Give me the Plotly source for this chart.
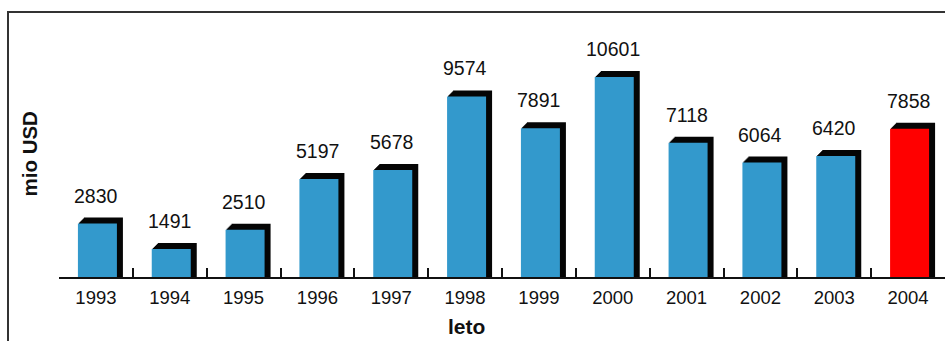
import plotly.graph_objects as go

# Annual values (mio USD)
years = ["1993", "1994", "1995", "1996", "1997", "1998",
         "1999", "2000", "2001", "2002", "2003", "2004"]
values = [2830, 1491, 2510, 5197, 5678, 9574, 7891, 10601, 7118, 6064, 6420, 7858]
bar_colors = ["#3399cc"] * 11 + ["#ff0000"]

W, H = 945, 341
margin = dict(l=59, r=0, t=15, b=64)
plot_w = W - margin["l"] - margin["r"]
plot_h = H - margin["t"] - margin["b"]
y_max = 13890

px_x = plot_w / len(years)      # pixels per category
px_y = plot_h / y_max           # pixels per data unit

bar_w = 39 / px_x
front_offset = -bar_w / 2 + 1.5 / px_x
depth = 6                       # extrusion depth in px

fig = go.Figure()

# black extrusion behind each bar, built as stepped copies
for i in range(1, depth + 1):
    fig.add_trace(go.Bar(
        x=years,
        y=[v + i / px_y for v in values],
        width=bar_w,
        offset=front_offset + i / px_x,
        marker=dict(color="#050505", line=dict(width=0)),
        hoverinfo="skip",
        showlegend=False,
    ))

# front faces
fig.add_trace(go.Bar(
    x=years,
    y=values,
    width=bar_w,
    offset=front_offset,
    marker=dict(color=bar_colors, line=dict(width=0)),
    showlegend=False,
))

# value labels above bars (category index positions)
for idx, v in enumerate(values):
    fig.add_annotation(
        x=idx, y=v, xref="x", yref="y",
        text=str(v), showarrow=False,
        yanchor="middle", yshift=28,
        font=dict(family="Liberation Sans, Arial", size=19.5, color="#111111"),
    )

# axis titles
fig.add_annotation(
    xref="paper", yref="paper",
    x=(29 - margin["l"]) / plot_w, y=(H - margin["b"] - 153.5) / plot_h,
    text="<b>mio USD</b>", textangle=-90, showarrow=False,
    xanchor="center", yanchor="middle",
    font=dict(family="Liberation Sans, Arial", size=20.5, color="#111111"),
)
fig.add_annotation(
    xref="paper", yref="paper",
    x=(466 - margin["l"]) / plot_w, y=(H - margin["b"] - 326) / plot_h,
    text="<b>leto</b>", showarrow=False,
    xanchor="center", yanchor="middle",
    font=dict(family="Liberation Sans, Arial", size=21, color="#111111"),
)

# outer frame
fig.add_shape(
    type="rect", xref="paper", yref="paper",
    x0=(8 - margin["l"]) / plot_w, x1=(W + 10 - margin["l"]) / plot_w,
    y0=(H - margin["b"] - H - 10) / plot_h, y1=(H - margin["b"] - 12) / plot_h,
    line=dict(color="#333333", width=2), fillcolor="rgba(0,0,0,0)",
    layer="below",
)

fig.update_layout(
    width=W, height=H,
    margin=margin,
    barmode="overlay",
    paper_bgcolor="white",
    plot_bgcolor="white",
    showlegend=False,
    xaxis=dict(
        type="category",
        range=[-0.5, len(years) - 0.5],
        showline=True, linecolor="#111111", linewidth=2,
        ticks="inside", tickson="boundaries", ticklen=9, tickwidth=2,
        tickcolor="#111111",
        showgrid=False, zeroline=False,
        tickangle=0,
        tickfont=dict(family="Liberation Sans, Arial", size=18.5, color="#111111"),
        ticklabelstandoff=3,
    ),
    yaxis=dict(
        range=[0, y_max],
        visible=False,
        showgrid=False, zeroline=False,
    ),
)

fig.write_html("out.html")
